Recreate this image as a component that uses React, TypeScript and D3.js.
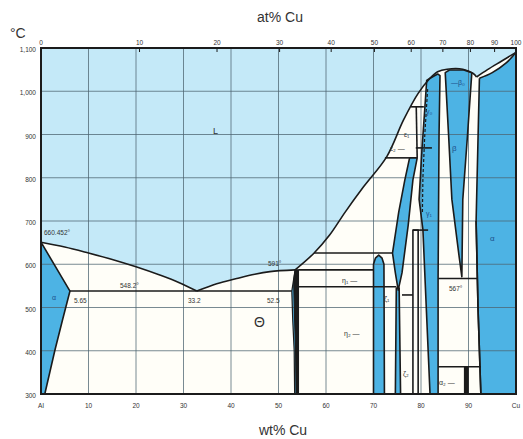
import React from "react";
import * as d3 from "d3";

// wt% Cu, °C
const wtTicks = [0, 10, 20, 30, 40, 50, 60, 70, 80, 90, 100];
const wtLabels = ["Al", "10", "20", "30", "40", "50", "60", "70", "80", "90", "Cu"];
const atTicks = [0, 10, 20, 30, 40, 50, 60, 70, 80, 90, 100];
const tempTicks = [300, 400, 500, 600, 700, 800, 900, 1000, 1100];
const tempLabels = ["300", "400", "500", "600", "700", "800", "900", "1,000", "1,100"];

// liquidus pieces
const liqAl = [[0, 651], [5, 640], [10, 626], [15, 611], [20, 594], [25, 575], [29, 558], [32.8, 538]];
const liqTheta = [[32.8, 538], [37, 555], [41.2, 567], [45, 577], [48.2, 583], [53.5, 587]];
const liqRight = [[53.5, 587], [57.5, 626], [60.8, 668], [64, 720], [67.9, 779], [72.8, 849], [76.3, 933],
  [79.4, 995], [81.9, 1030], [83.5, 1045], [85.5, 1051], [88.8, 1051], [91, 1041], [91.7, 1033]];
const liqCu = [[91.7, 1033], [94, 1050], [97, 1070], [100, 1090]];
const solCu = [[92.3, 1030], [95, 1043], [98, 1066], [100, 1090]];

// single phase fields
const alphaAl = [[0, 651], [6.1, 538], [4.5, 470], [2.9, 400], [0.8, 300], [0, 300]];
const thetaEdge = [[53.5, 587], [52.8, 538], [53.0, 470], [53.3, 400], [53.4, 300], [54.0, 300], [54.0, 587]];
const theta = [[53.5, 587], [53.2, 560], [53.4, 470], [53.6, 400], [53.7, 300], [54.2, 300], [54.2, 587]];
const eta = [[70, 300], [70, 600], [70.4, 614], [71.1, 621], [71.8, 614], [72.2, 600], [72.3, 300]];
const epsilon = [[77.6, 846], [79.2, 846], [78.3, 795], [77.3, 690], [76.0, 580], [75.2, 540], [74.6, 580],
  [74.0, 626], [75.3, 720], [76.6, 795]];
const zeta = [[74.6, 300], [74.8, 545], [75.4, 545], [75.7, 300]];
const delta = [[78.3, 300], [78.3, 679], [79.4, 679], [79.4, 300]];
const gamma = [[81.2, 1025], [81.9, 1030], [83.5, 1040], [84.0, 1036], [83.8, 900], [83.6, 567], [83.6, 300],
  [81.9, 300], [80.4, 680], [79.6, 750], [80.2, 865], [80.8, 960]];
const beta = [[85.1, 1043], [86, 1049], [89, 1049], [90.7, 1043], [89.8, 900], [88.8, 750], [88.6, 571],
  [88.0, 620], [86.5, 750], [85.8, 900]];
const alpha2 = [[89.2, 300], [89.2, 363], [89.9, 363], [89.9, 300]];
const alphaCu = [[92.3, 1030], [95, 1043], [98, 1066], [100, 1090], [100, 300], [92.6, 300], [92.0, 500], [91.6, 700]];

// isotherms: [T, from wt, to wt]
const isotherms = [
  [538, 6.1, 52.8], [587, 54.2, 70], [626, 57.5, 74.0], [548, 54.2, 74.8], [529, 76.0, 78.3],
  [846, 72.4, 77.6], [869, 78.9, 82.3], [964, 77.9, 80.6], [679, 78.3, 81.5], [567, 83.6, 92.0],
  [363, 83.6, 92.6],
];
const eps1Edge = [[79.0, 964], [79.2, 846]];
const gammaDash = [[81.4, 1005], [80.8, 900], [80.4, 800], [80.3, 720]];

const LIGHT = "#c4e9f8";
const MID = "#4db3e4";
const INK = "#1b1b1b";

const atToWt = (a: number) => (a * 63.546) / (a * 63.546 + (100 - a) * 26.9815) * 100;

export default function App() {
  const x = d3.scaleLinear().domain([0, 100]).range([41, 516]);
  const y = d3.scaleLinear().domain([300, 1100]).range([394, 48]);

  const curve = d3.line<number[]>().x(d => x(d[0])).y(d => y(d[1])).curve(d3.curveCatmullRom.alpha(0.5));
  const poly = d3.line<number[]>().x(d => x(d[0])).y(d => y(d[1]));

  const segs = [liqAl, liqTheta, liqRight, liqCu].map(s => curve(s) as string);
  const liquidD = `M${x(0)},${y(1100)}L${x(0)},${y(651)}` +
    segs.map(s => s.replace(/^M/, "L")).join("") + `L${x(100)},${y(1100)}Z`;

  const blues = [alphaAl, thetaEdge, eta, epsilon, zeta, gamma, beta, alphaCu];
  const font = "Arial, 'Liberation Sans', sans-serif";
  const lab = (tx: string, px: number, py: number, size = 7, extra: any = {}) => (
    <text x={px} y={py} fontSize={size} fill="#333" fontFamily={font} {...extra}>{tx}</text>
  );

  return (
    <svg width={523} height={439} style={{ position: "absolute", left: 0, top: 0, background: "#fff" }}>
      <rect x={x(0)} y={y(1100)} width={x(100) - x(0)} height={y(300) - y(1100)} fill="#fffef8" />
      <path d={liquidD} fill={LIGHT} />
      {blues.map((p, i) => <path key={i} d={poly(p) + "Z"} fill={MID} />)}
      <path d={poly(delta) + "Z"} fill="#fffef8" />

      {/* grid */}
      {wtTicks.slice(1, -1).map(t => (
        <line key={"v" + t} x1={x(t)} x2={x(t)} y1={y(1100)} y2={y(300)} stroke="#4d6470" strokeWidth={1} opacity={0.75} />
      ))}
      {tempTicks.slice(1, -1).map(t => (
        <line key={"h" + t} x1={x(0)} x2={x(100)} y1={y(t)} y2={y(t)} stroke="#4d6470" strokeWidth={1} opacity={0.75} />
      ))}

      {/* boundaries */}
      <g fill="none" stroke={INK} strokeWidth={1.6} strokeLinejoin="round">
        {segs.map((s, i) => <path key={i} d={s} />)}
        <path d={curve(solCu) as string} />
        {[alphaAl, eta, epsilon, zeta, delta, gamma, beta].map((p, i) => <path key={i} d={poly(p) + "Z"} />)}
        <path d={poly(alphaCu.slice(4)) as string} />
        <path d={poly([alphaCu[0], ...alphaCu.slice(5).reverse()]) as string} />
        <path d={poly(thetaEdge.slice(0, 5)) as string} strokeWidth={1.2} />
        <path d={poly(theta) + "Z"} fill={INK} strokeWidth={1.2} />
        <path d={poly(alpha2) + "Z"} fill={INK} />
        {isotherms.map(([t, a, b], i) => (
          <line key={i} x1={x(a)} x2={x(b)} y1={y(t)} y2={y(t)} />
        ))}
        <path d={poly(eps1Edge) as string} />
        <path d={poly(gammaDash) as string} strokeDasharray="3,2" strokeWidth={1.2} />
      </g>

      <rect x={x(0)} y={y(1100)} width={x(100) - x(0)} height={y(300) - y(1100)} fill="none" stroke={INK} strokeWidth={2} />

      {/* top at% axis */}
      {atTicks.map(a => (
        <g key={"a" + a}>
          <line x1={x(atToWt(a))} x2={x(atToWt(a))} y1={y(1100)} y2={y(1100) + 4} stroke={INK} strokeWidth={1} />
          {lab(String(a), x(atToWt(a)), 45, 6.5, { textAnchor: "middle" })}
        </g>
      ))}
      {wtTicks.map((t, i) => lab(wtLabels[i], x(t), 408, 6.5, { textAnchor: "middle", key: "w" + t }))}
      {tempTicks.map((t, i) => lab(tempLabels[i], 36, y(t) + 4, 6.5, { textAnchor: "end", key: "t" + t }))}

      {lab("at% Cu", 280, 22, 14, { textAnchor: "middle" })}
      {lab("wt% Cu", 283, 435, 14, { textAnchor: "middle" })}
      {lab("°C", 10, 38, 14)}

      {/* phase labels */}
      {lab("L", 213, 134, 9)}
      {lab("660.452°", 44, 235, 6.5)}
      {lab("548.2°", 120, 288, 6.5)}
      {lab("5.65", 74, 303, 6.5)}
      {lab("33.2", 188, 303, 6.5)}
      {lab("52.5", 267, 303, 6.5)}
      {lab("591°", 268, 266, 6.5)}
      {lab("Θ", 254, 327, 14)}
      {lab("α", 52, 300, 7, { fill: "#1d4f8a" })}
      {lab("η₁ —", 342, 283, 7)}
      {lab("η₂ —", 344, 336, 7)}
      {lab("ζ₁", 384, 301, 7)}
      {lab("ζ₂", 403, 376, 7)}
      {lab("567°", 449, 291, 6.5)}
      {lab("α₂ —", 439, 385, 7)}
      {lab("α", 490, 241, 8, { fill: "#1d4f8a" })}
      {lab("β", 452, 151, 8, { fill: "#1d4f8a" })}
      {lab("γ₁", 426, 216, 7, { fill: "#1d4f8a" })}
      {lab("γ₀", 426, 114, 7, { fill: "#1d4f8a" })}
      {lab("ε₂ —", 390, 151, 7)}
      {lab("ε₁", 404, 137, 7)}
      {lab("—β₀", 451, 85, 7, { fill: "#1d4f8a" })}
    </svg>
  );
}
